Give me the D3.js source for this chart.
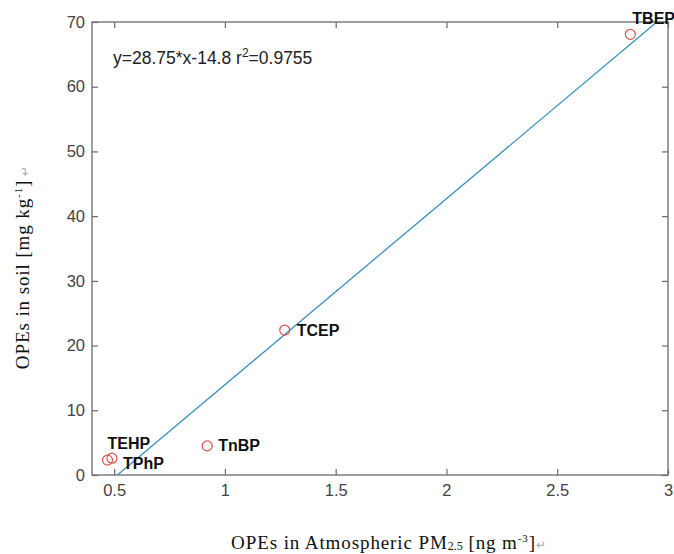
<!DOCTYPE html>
<html><head><meta charset="utf-8">
<script src="https://cdn.jsdelivr.net/npm/d3@7"></script>
<style>body{margin:0;background:#fff}</style>
</head><body>
<svg id="c" width="674" height="554"></svg>
<script>
const compounds = ["TBEP","TCEP","TnBP","TEHP","TPhP"];
const pmValues = [2.83, 1.27, 0.92, 0.47, 0.49];
const soilValues = [68.1, 22.4, 4.5, 2.3, 2.6];
const xTicks = [0.5, 1, 1.5, 2, 2.5, 3];
const yTicks = [0, 10, 20, 30, 40, 50, 60, 70];
const fitSlope = 28.75, fitIntercept = -14.8;
const fitText = "y=28.75*x-14.8 r";

const svg = d3.select("#c");
const L = 92, R = 668, T = 22, B = 475;
const x = d3.scaleLinear().domain([0.4, 3]).range([L, R]);
const y = d3.scaleLinear().domain([0, 70]).range([B, T]);
const axisCol = "#6a6a6a";
const sans = "Liberation Sans, Arial, sans-serif";
const serif = "Liberation Serif, Times New Roman, serif";

svg.append("rect").attr("x", L).attr("y", T).attr("width", R - L).attr("height", B - T)
  .attr("fill", "none").attr("stroke", axisCol).attr("stroke-width", 1.3);

const styleAxis = g => {
  g.select(".domain").remove();
  g.selectAll(".tick line").attr("stroke", axisCol).attr("stroke-width", 1.2);
  g.selectAll(".tick text").attr("fill", "#444").attr("font-family", sans).attr("font-size", 16.5);
};
svg.append("g").attr("transform", `translate(0,${B})`)
  .call(d3.axisBottom(x).tickValues(xTicks).tickSize(-6).tickPadding(9).tickFormat(d3.format("~g")))
  .call(styleAxis);
svg.append("g").attr("transform", `translate(0,${T})`)
  .call(d3.axisTop(x).tickValues(xTicks).tickSize(-6).tickFormat(""))
  .call(styleAxis);
svg.append("g").attr("transform", `translate(${L},0)`)
  .call(d3.axisLeft(y).tickValues(yTicks).tickSize(-6).tickPadding(7))
  .call(styleAxis);
svg.append("g").attr("transform", `translate(${R},0)`)
  .call(d3.axisRight(y).tickValues(yTicks).tickSize(-6).tickFormat(""))
  .call(styleAxis);

svg.append("clipPath").attr("id", "clip").append("rect")
  .attr("x", L).attr("y", T).attr("width", R - L).attr("height", B - T);

const x0 = -fitIntercept / fitSlope, x1 = (70 - fitIntercept) / fitSlope;
svg.append("line").attr("clip-path", "url(#clip)")
  .attr("x1", x(x0)).attr("y1", y(fitSlope * x0 + fitIntercept))
  .attr("x2", x(x1)).attr("y2", y(fitSlope * x1 + fitIntercept))
  .attr("stroke", "#3a8fbf").attr("stroke-width", 1.3);

const data = compounds.map((c, i) => ({c, px: pmValues[i], s: soilValues[i]}));
svg.selectAll("circle.pt").data(data).join("circle").attr("class", "pt")
  .attr("cx", d => x(d.px)).attr("cy", d => y(d.s)).attr("r", 5)
  .attr("fill", "none").attr("stroke", "#d9534f").attr("stroke-width", 1.2);

const offsets = {TBEP: [2, -10], TCEP: [12, 6], TnBP: [11, 5], TEHP: [0, -11], TPhP: [11, 11]};
svg.selectAll("text.lbl").data(data).join("text").attr("class", "lbl")
  .attr("x", d => x(d.px) + offsets[d.c][0]).attr("y", d => y(d.s) + offsets[d.c][1])
  .attr("font-family", sans).attr("font-weight", "bold")
  .attr("font-size", 16).attr("fill", "#111").text(d => d.c);

const ft = svg.append("text").attr("x", 113).attr("y", 64)
  .attr("font-family", sans).attr("font-size", 17.5).attr("fill", "#222");
ft.append("tspan").text(fitText);
ft.append("tspan").attr("dy", -7).attr("font-size", 12).text("2");
ft.append("tspan").attr("dy", 7).text("=0.9755");

const xt = svg.append("text").attr("x", 389).attr("y", 549).attr("text-anchor", "middle")
  .attr("font-family", serif).attr("font-size", 19).attr("letter-spacing", 0.9).attr("fill", "#111");
xt.append("tspan").text("OPEs in Atmospheric PM");
xt.append("tspan").attr("font-size", 12).attr("letter-spacing", 0).attr("dy", 1).text("2.5");
xt.append("tspan").attr("dy", -1).text(" [ng m");
xt.append("tspan").attr("font-size", 11).attr("dy", -7).text("-3");
xt.append("tspan").attr("dy", 7).text("]");
xt.append("tspan").attr("fill", "#aaa").attr("font-size", 12).text("↵");

const yt = svg.append("text").attr("transform", "translate(29,267) rotate(-90)").attr("text-anchor", "middle")
  .attr("font-family", serif).attr("font-size", 19).attr("letter-spacing", 0.9).attr("fill", "#111");
yt.append("tspan").text("OPEs in soil [mg kg");
yt.append("tspan").attr("font-size", 11).attr("dy", -7).text("-1");
yt.append("tspan").attr("dy", 7).text("]");
yt.append("tspan").attr("fill", "#aaa").attr("font-size", 12).text(" ↵");
</script>
</body></html>
